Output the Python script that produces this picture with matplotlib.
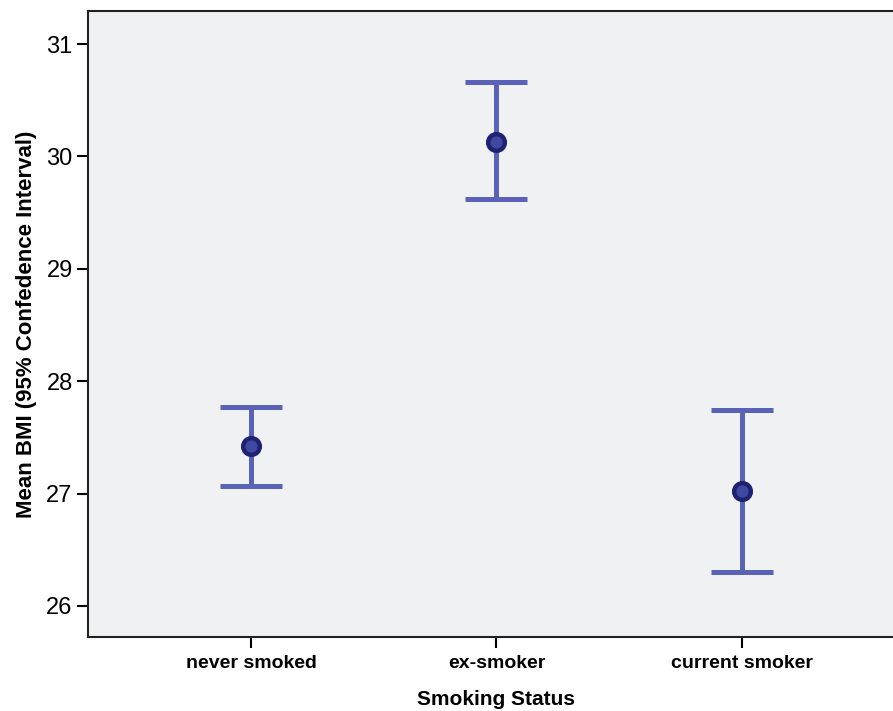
import numpy as np
import matplotlib.pyplot as plt

plt.rcParams['font.family'] = ['Liberation Sans', 'DejaVu Sans']

# mean BMI with 95% CI per smoking group
groups = ['never smoked', 'ex-smoker', 'current smoker']
bmi_mean = [27.42, 30.13, 27.02]
ci_lower = [27.07, 29.62, 26.30]
ci_upper = [27.77, 30.66, 27.74]

bar_col = '#5a62b8'
dot_col = '#1f2272'

fig = plt.figure(figsize=(8.93, 7.11), dpi=100)
ax = fig.add_axes([88 / 893, 1 - 637 / 711, (905 - 88) / 893, (637 - 11) / 711])
ax.set_facecolor('#f0f1f3')

x = np.arange(len(groups))
mean = np.array(bmi_mean)
err = np.vstack([mean - np.array(ci_lower), np.array(ci_upper) - mean])

ax.errorbar(x, mean, yerr=err, fmt='none', ecolor=bar_col, elinewidth=3.6,
            capsize=22, capthick=3.6, zorder=2)
ax.plot(x, mean, 'o', ms=12, mfc='#4049a0', mec=dot_col, mew=3.2, zorder=3)

ax.set_xlim(-0.664, 2.664)
ax.set_ylim(25.724, 31.294)
ax.set_xticks(x)
ax.set_xticklabels(groups, fontsize=14, fontweight='bold')
ax.set_yticks([26, 27, 28, 29, 30, 31])
ax.tick_params(axis='y', labelsize=17, length=8, width=1.5, pad=3)
ax.tick_params(axis='x', length=8, width=1.5, pad=5)

ax.spines['right'].set_visible(False)
for s in ['left', 'bottom', 'top']:
    ax.spines[s].set_linewidth(1.5)
    ax.spines[s].set_color('#222222')

ax.set_xlabel('Smoking Status', fontsize=15, fontweight='bold', labelpad=13)
ax.set_ylabel('Mean BMI (95% Confedence Interval)', fontsize=16, fontweight='bold', labelpad=7)

fig.savefig('out.png', dpi=100)
